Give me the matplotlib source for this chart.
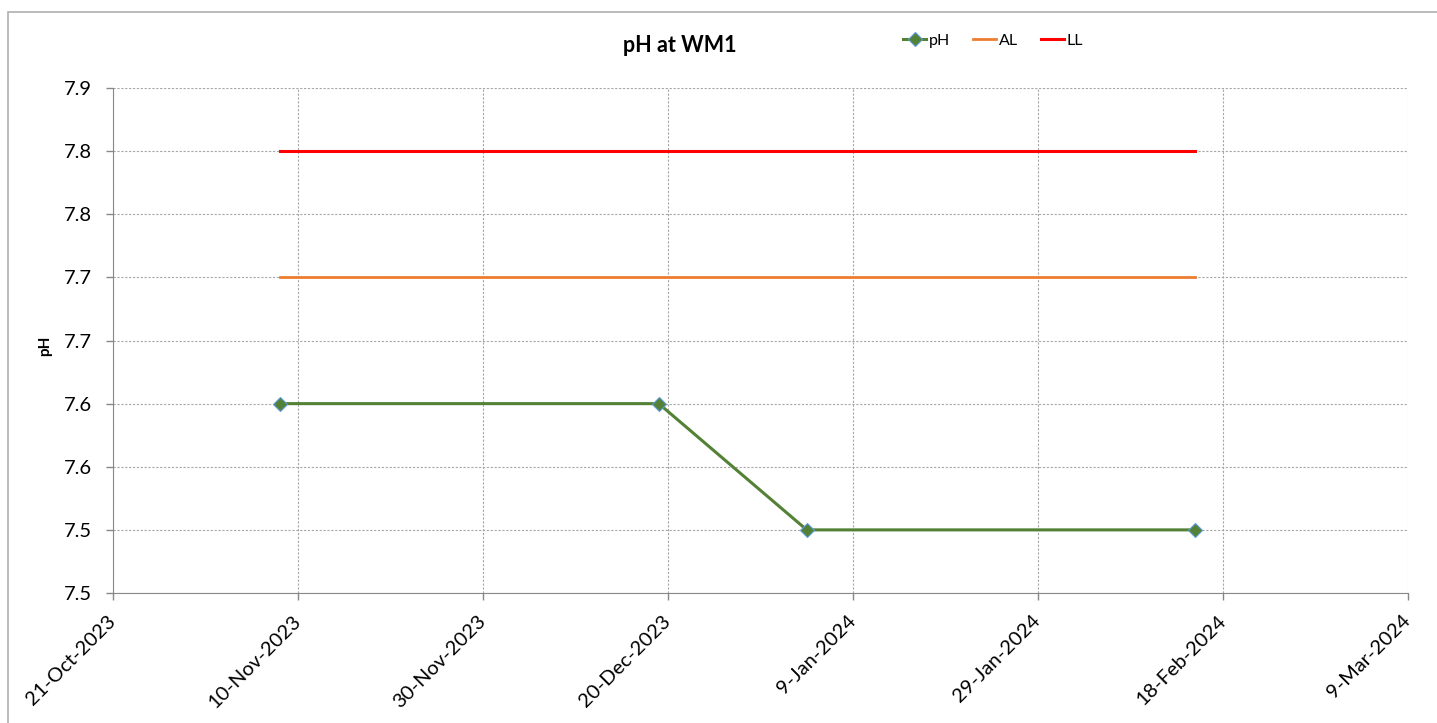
import datetime
import matplotlib
matplotlib.use("Agg")
import matplotlib.pyplot as plt
import matplotlib.dates as mdates
from matplotlib.patches import Rectangle
from matplotlib.ticker import FuncFormatter

# sample dates and readings
dates = [datetime.date(2023, 11, 8), datetime.date(2023, 12, 19),
         datetime.date(2024, 1, 4), datetime.date(2024, 2, 15)]
ph = [7.6, 7.6, 7.5, 7.5]
al = [7.7, 7.7, 7.7, 7.7]
ll = [7.8, 7.8, 7.8, 7.8]

tick_start = datetime.date(2023, 10, 21)
tick_step_days = 20
n_ticks = 8
y_ticks = [7.45, 7.50, 7.55, 7.60, 7.65, 7.70, 7.75, 7.80, 7.85]

plt.rcParams['font.family'] = ['Lato', 'DejaVu Sans']

fig = plt.figure(figsize=(14.37, 7.23), dpi=100)
ax = fig.add_axes([113 / 1437, 1 - 593 / 723, (1408 - 113) / 1437, (593 - 88) / 723])

# outer chart border
fig.patches.append(Rectangle((8 / 1437, -0.1), 1.2, 1.1 - 12 / 723, transform=fig.transFigure,
                             fill=False, edgecolor='#b0b0b0', linewidth=1.2))

ax.plot(dates, ph, color='#538135', linewidth=2.2, marker='D', markersize=7,
        markerfacecolor='#538135', markeredgecolor='#5b9bd5', markeredgewidth=0.8,
        label='pH', zorder=4)
ax.plot(dates, al, color='#ed7d31', linewidth=2.0, label='AL', zorder=3)
ax.plot(dates, ll, color='#ff0000', linewidth=2.2, label='LL', zorder=3)

x_ticks = [tick_start + datetime.timedelta(days=tick_step_days * i) for i in range(n_ticks)]
ax.set_xticks(x_ticks)
ax.set_xlim(x_ticks[0], x_ticks[-1])
ax.xaxis.set_major_formatter(FuncFormatter(
    lambda v, pos: "%d-%s" % (mdates.num2date(v).day, mdates.num2date(v).strftime('%b-%Y'))))
ax.set_yticks(y_ticks)
ax.set_ylim(y_ticks[0], y_ticks[-1])
ax.yaxis.set_major_formatter(FuncFormatter(lambda v, pos: "%.1f" % (v + 1e-9)))

ax.tick_params(axis='both', labelsize=14.5, colors='#888888', labelcolor='black',
               length=5, width=1)
ax.tick_params(axis='x', pad=13)
ax.tick_params(axis='y', pad=10)
for lbl in ax.get_xticklabels():
    lbl.set_rotation(45)
    lbl.set_ha('right')
    lbl.set_va('center')
    lbl.set_rotation_mode('anchor')

ax.grid(True, linestyle=(0, (2, 1.5)), color='#a6a6a6', linewidth=0.8)
for side in ['top', 'right']:
    ax.spines[side].set_visible(False)
for side in ['left', 'bottom']:
    ax.spines[side].set_color('#888888')

ax.set_ylabel('pH', fontsize=11, fontweight='bold')
ax.yaxis.set_label_coords(-0.047, 0.49)

fig.text(680 / 1437, 1 - 45 / 723, 'pH at WM1', fontsize=15.5, fontweight='bold',
         ha='center', va='center')
fig.legend(loc='center', bbox_to_anchor=(993 / 1437, 1 - 41 / 723), ncol=3,
           frameon=False, fontsize=11.5, handlelength=1.45, columnspacing=1.45,
           handletextpad=0.15)

fig.savefig('out.png', dpi=100)
